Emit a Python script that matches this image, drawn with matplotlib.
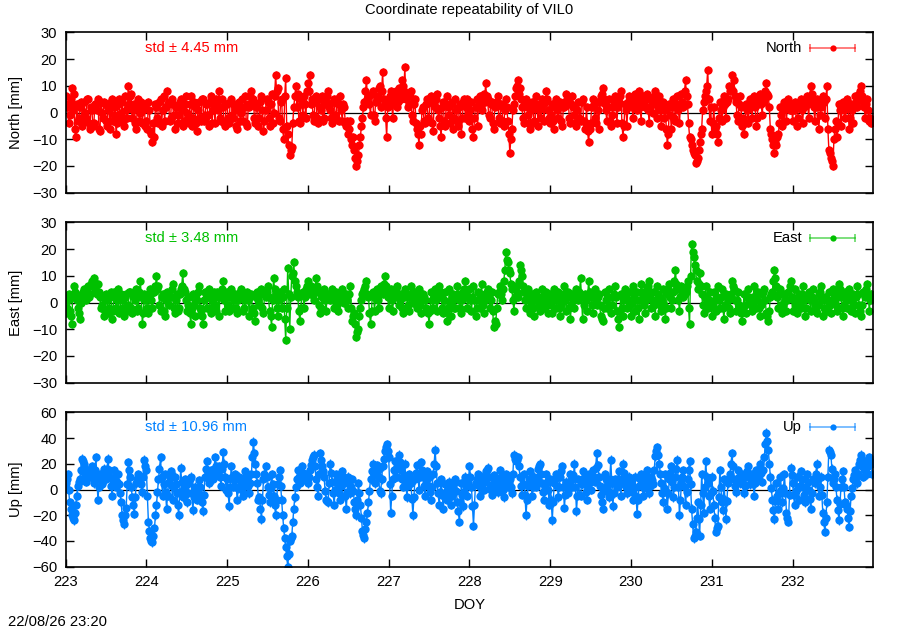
import numpy as np
import matplotlib
matplotlib.use("Agg")
import matplotlib.pyplot as plt

# ---------------- data ----------------
title = "Coordinate repeatability of VIL0"
stamp = "22/08/26 23:20"
doy_start = 223.0
doy_step = 0.025          # spacing of each sample set; the *_mid sets sit half a step later

north = [
    6, 3, -1, 9, 7, -9, -3, 2, -5, 4, -2, 5, -6, 1, -4, 3, 5, -7, 0, 4, -3, 2, -6, 5, -1, -8, 3, -2, 4, -5, 1, 10, 6, -2, 3, -6, 5, 0, -4, 2,
    -3, 4, -7, -11, -9, 2, -4, 5, 1, -3, 8, 4, -2, 3, -6, 2, -1, 5, -5, 3, 0, -4, 6, -2, 2, -7, 4, -3, 5, -1, 3, -5, 6, 1, -4, 4, 8, -3, 2, -5,
    3, -4, 5, -2, 1, -6, 4, 0, -3, 6, -5, 2, 8, 5, -4, 3, -2, 6, -7, 1, 4, -5, 7, 0, 14, 9, -3, 5, -10, 13, -8, -16, -13, 2, 10, 7, -4, 3, 6, -2,
    11, 14, 5, -3, 6, -4, 2, 6, -2, 4, 8, 1, -4, 5, -2, 3, 6, -3, 2, -5, -8, -3, -12, -14, -20, -16, -9, -2, 4, 12, 6, -1, 8, -3, 5, 9, 2, 15, 4, -9,
    4, 8, -2, 6, 2, 9, 5, 10, 17, 6, 3, 8, -3, 5, -6, -12, -8, 2, -4, 5, -3, 6, -7, 2, 7, -2, -9, 4, -5, 6, -1, 3, -6, 5, -3, 2, -8, 4, -2, 5,
    -3, 4, -9, 2, -5, 6, 1, 7, 11, 5, -2, 4, -6, 3, 6, -4, 2, -5, 5, -3, -15, -6, 3, 9, 12, 9, 2, -4, 5, -1, -6, 4, -3, 6, -5, 2, 5, -3, 8, 1,
    -4, 3, -6, 5, -2, 4, -5, 2, 7, 3, -4, 6, -1, -5, 4, -3, 5, -6, 2, -11, -4, 5, -2, 4, -6, 6, 9, 3, -3, 5, -5, 2, 6, -4, 4, 8, -9, 3, -5, 6,
    5, -2, 7, 1, 8, -3, 6, 2, 7, -4, 5, 0, 8, -2, 6, -5, 4, 1, -12, 3, -6, 5, -3, 6, -4, 7, 2, 12, 3, -9, -12, -15, -19, -17, -11, -6, 4, 8, 16, -3,
    -8, 2, -5, -11, 4, -3, 6, -2, 5, 8, 14, 12, 4, -3, 6, -5, -8, 3, -4, 5, -2, 6, -5, 3, 7, -1, 4, 11, 6, -6, -10, -15, -12, -8, 2, -5, 4, -3, 5, 1,
    -3, 4, -5, 2, 5, -4, 3, 6, -2, 10, 4, -3, 5, -6, 2, 6, -2, 10, -14, -17, -20, -6, -9, 3, -5, 4, -2, 5, -6, 3, -4, 6, 2, 7, 10, 4, -2, 5, -3, -4,
]
north_mid = [
    2, -4, 5, 1, -6, 3, -2, 4, -3, 0, 5, -4, 2, -5, 3, 1, -6, 4, -2, 3, -5, 1, 4, -3, 2, -4, 5, 0, -3, 6, -2, 3, 7, 1, -4, 2, -3, 4, 1, -5,
    -6, 1, -8, -4, 3, -2, 4, -5, 6, 2, 3, -3, 5, -1, 2, -4, 4, 1, -3, 6, -2, 3, -5, 4, -4, 1, -2, 5, -3, 3, -1, 4, -4, 2, 5, 1, -2, 5, -4, 3,
    -2, 4, -1, 3, -5, 2, -3, 5, 2, -4, 3, 6, 4, -2, 2, -5, 4, 1, -3, 5, -2, 3, -4, 6, 8, -2, 4, -6, 6, -5, -12, -14, -4, 6, 2, -3, 5, -1, 3, 8,
    8, 3, -1, 4, -2, 5, 1, -3, 3, 6, 2, -2, 4, -1, 5, -3, 1, 3, -4, -3, -6, -10, -9, -17, -18, -12, -5, 2, 8, 5, 3, 7, -1, 4, 6, 10, 8, 5, -2, 2,
    6, 3, 5, 8, 4, 7, 12, 8, 5, 2, 6, -1, 3, -4, -8, -5, 1, -3, 3, -2, 4, -4, 3, 5, 1, -5, 2, -3, 3, 2, -4, 4, -2, 1, -5, 3, -2, 5, 2, -1,
    1, -6, -2, 5, 3, 2, 5, 4, 6, -1, 3, -4, 2, 4, -2, 3, -3, 1, 2, -8, -10, 1, 6, 10, 7, 5, -2, 3, 2, -4, 1, 2, -4, 3, 1, -2, 3, 4, 5, -2,
    -1, -3, 2, 1, 3, -3, 2, 4, 5, -2, 3, 2, -4, 1, -2, 4, -3, -4, -7, -6, 2, 3, -4, 1, 4, 7, 5, 1, 2, -3, -1, 4, 3, 2, 6, -4, -5, 1, 4, 3,
    2, 4, 3, 5, 2, 4, 3, 5, 1, 2, 3, 6, 4, 2, 1, 3, -2, -6, -8, -1, 2, -2, 3, 1, 3, 4, 8, 6, -4, -10, -14, -16, -18, -14, -8, 1, 6, 10, 5, 2,
    -4, -6, -8, -2, 1, 2, 3, 4, 10, 9, 8, 6, -1, 3, 2, -2, -4, 1, 2, 3, 4, 2, -2, 5, 3, 6, 8, 7, 2, -8, -12, -11, -9, -4, -1, 1, 2, 3, 1, 3,
    1, 2, -2, 3, 1, 2, 4, 3, 6, 7, 2, 2, 3, -1, 3, 4, 5, -6, -15, -18, -10, -3, -4, 1, 2, 1, 3, 2, -2, 1, 3, 4, 5, 8, 6, 2, 3, 1, -2, -3,
]

east = [
    -4, 1, -3, -8, 6, 3, -2, -6, 2, 5, 1, 6, 3, 8, 9, 4, 7, 2, -1, -5, 3, -4, 2, -6, 4, -2, 5, -3, 1, -5, 3, -1, 4, -4, 2, 5, -2, 8, -8, 3,
    2, -4, 5, -2, 4, 10, 6, -3, 3, -5, 4, -1, 2, 7, -4, 3, -2, 5, 11, 4, -3, 2, -8, 3, -5, 1, 6, -3, -8, 4, -2, 5, -4, 3, -1, 4, -5, 2, 8, -3,
    4, -3, 5, -2, 3, -4, 2, 5, -3, 1, 4, -5, 3, -2, -7, 4, -1, 5, -4, 2, 6, -3, -9, 9, 3, -5, 4, -2, 5, -14, 13, -10, 10, 15, 6, 2, -7, 3, -2, 5,
    8, 3, 5, 1, 9, 4, -4, 2, 5, -3, 3, 1, 5, -2, 4, -3, 2, 5, 0, 3, -2, 6, -7, -4, -13, -10, -2, 3, 5, 8, 2, -8, 4, -3, 5, -2, 6, 3, 10, 4,
    -2, 5, -3, 4, 6, -1, 3, -4, 5, 2, -3, 6, 0, 4, -2, 5, -4, 3, 1, -3, -8, 4, -2, 5, -3, 6, 2, -4, 4, -7, 5, -5, 3, -2, 6, 1, -4, 4, 8, -2,
    5, -3, 6, -5, 4, -2, 7, -4, 3, 5, -2, 4, -9, -8, 3, 6, 1, 8, 19, 15, 11, 5, -3, 6, 2, 14, 10, 4, -2, 5, -4, 3, -5, 4, 1, -3, 5, -2, 4, -4,
    3, -4, 5, -2, 4, -5, 2, 6, -3, 4, -6, 3, -2, 5, 1, 9, -6, 3, -3, 8, 2, -4, 5, -1, 3, -5, -7, 4, -2, 5, -4, 2, 6, -3, -9, 3, -5, 5, -2, 4,
    -5, 6, -3, 4, -6, 7, 2, -4, 5, 8, -2, 4, -5, 6, 1, -3, 5, -6, 3, 7, -2, 4, 12, 5, -3, 6, 2, 4, 8, -8, 22, 17, 12, 5, 11, 3, -4, 6, -2, 4,
    -5, 4, -3, 6, -2, 5, -6, 3, 1, -4, 8, 5, -3, 4, -2, -7, 3, -4, 5, 1, -3, 6, -2, 4, -5, 3, 5, -4, -7, 2, 4, 12, 6, -2, 5, -4, 3, -3, 4, 8,
    -3, 5, -4, 3, -2, 6, -5, 2, 4, -3, 5, -1, -4, 3, 6, -5, 2, -3, 4, -4, 5, 1, -3, 7, 2, -5, 4, -2, 5, -3, 3, -4, 6, -1, -5, 4, 2, 7, -3, 3,
]
east_mid = [
    -2, 3, -5, 2, 4, 1, -4, 0, 4, 3, 5, 2, 7, 6, 5, 3, 4, -2, 2, -3, 1, -2, 4, -3, 2, 1, -4, 3, -2, 2, -3, 4, -2, 3, 1, -3, 4, 2, -4, 1,
    -2, 3, 1, 4, 6, 5, -1, 2, -3, 1, 3, 2, 5, -2, 1, -3, 3, 6, 5, 1, -1, -4, -2, -1, 3, 4, -2, -5, 1, 3, 2, -2, 1, 4, -3, 2, 3, 5, 1, 2,
    -1, 2, 3, 1, -2, 1, 4, 2, -2, 3, 1, 2, -3, -4, 2, 1, 3, -2, 3, 4, 2, -5, 1, 5, -2, 1, 3, 2, -6, -2, 3, 2, 11, 8, 4, -3, -2, 4, 2, 6,
    5, 6, 3, 5, 6, -1, -2, 4, 1, 2, 3, 2, 1, 3, -1, 1, 4, 3, 2, 1, 3, -2, -5, -8, -11, -5, 1, 4, 6, 3, -4, -3, 2, 3, 1, 3, 4, 7, 6, 2,
    2, 1, 3, 5, 2, 1, -2, 2, 3, -1, 3, 2, 2, 1, 3, -1, 1, 2, -2, -4, -3, 1, 3, 1, 2, 4, -2, 1, -3, -2, -1, 1, -2, 2, 3, -2, 1, 5, 3, 2,
    1, 2, 1, -2, 1, 3, -1, 1, 4, 2, 1, -3, -7, -2, 4, 3, 5, 12, 16, 12, 7, 1, 2, 4, 8, 12, 6, 1, 2, 1, -1, -2, 1, 2, -1, 2, 1, 2, -1, 1,
    -1, 1, 2, 1, -2, -1, 3, 1, 2, -2, -1, 1, 2, 3, 4, 2, -1, 1, 2, 4, -1, 2, 1, 2, -1, -6, -2, 1, 2, -1, -1, 3, 2, -6, -3, -2, 1, 2, 1, -1,
    1, 2, 1, -2, 1, 4, -1, 1, 6, 3, 1, -1, 1, 3, -1, 1, -1, -2, 5, 2, 1, 8, 7, 1, 2, 4, 3, 6, -2, 10, 19, 14, 8, 7, 6, -1, 2, 1, 1, -1,
    -1, 1, 2, 1, 2, -2, -1, 2, -2, 3, 6, 1, 1, -1, -4, -2, -1, 2, 2, -1, 2, 1, 1, -2, -1, 4, 1, -5, -3, 3, 8, 9, 2, 3, -1, -1, 1, 1, 6, 2,
    1, -1, 1, -1, 3, 1, -2, 3, 1, 2, 1, -3, -1, 4, 1, -2, 1, 1, -1, 1, 3, -1, 4, 5, -2, -1, 1, 2, 1, 1, -1, 2, 3, -3, -1, 3, 5, 3, 1, 2,
]

up = [
    5, 12, -10, -20, -24, -12, 3, 8, 24, 20, 6, 15, 10, 18, 5, 25, -8, 12, 4, 16, 8, 24, 10, -5, 15, 2, 12, -3, -20, -27, -14, 21, 10, -6, -19, 5, 12, 10, -2, 23,
    15, -25, -38, -41, -30, -12, 8, 25, -5, 12, -15, 6, 14, -8, 10, -3, -20, 17, -6, 8, -10, 5, 10, -16, 2, -8, 7, -4, -17, 10, 22, 5, 15, 8, 25, 12, 18, 3, 29, 10,
    8, -13, 18, 2, 12, -8, 10, 5, -5, 14, 8, -3, 12, 37, 20, 5, -6, -23, 8, 18, 2, -10, 12, -5, -20, 4, 15, -8, -30, -45, -60, -40, -36, -15, 2, 15, 5, 18, 8, 12,
    5, 15, 23, 27, 8, -5, 28, 18, 10, -8, -10, 20, 6, -12, 12, 2, -8, 14, 5, -15, 10, -3, 8, -10, -20, 5, -12, -32, -38, -25, -10, 8, 20, 5, 19, 10, -3, 18, 30, 35,
    25, -18, 8, 22, 10, 27, 15, 2, 20, -6, 12, 5, -20, 8, 19, 0, 21, 10, -5, 14, 3, -8, 12, 31, 5, -12, 8, -15, 4, -8, 6, -12, 2, 8, -10, -25, 5, -13, 10, -5,
    18, 2, -28, 5, 12, -5, 10, 0, 14, 17, 3, -4, 11, 6, -2, 15, 5, -6, 12, 2, 8, -3, 27, 22, 25, 10, -4, 12, -20, 3, 14, -5, 10, 2, 16, 20, 5, -8, 12, 0,
    8, -24, 5, 12, -6, 10, 18, -14, 6, -3, 12, 2, 20, -17, 8, -5, 14, 4, -8, 12, 0, 15, 6, 28, 10, -4, -15, 12, 3, -6, 23, -13, 8, 2, 14, -5, 20, 6, -3, 10,
    5, -8, 10, -19, 3, 12, -5, 8, 15, -3, 10, 4, 26, 33, 20, 5, -10, 12, -15, 8, 18, -6, 10, 23, -20, 5, 15, -12, 8, 22, -15, -38, -33, -10, -36, 12, -18, 22, 5, -15,
    10, -12, -33, -28, 15, -10, 8, -23, 5, 12, 28, 8, -2, 15, 5, 12, -3, 10, 18, 4, 12, -5, 15, 8, 20, 6, 25, 44, 31, 10, -8, -23, 5, -15, 10, -10, 12, -18, -25, 17,
    5, -12, 10, -8, 14, 2, -10, 12, 0, -15, 8, 5, 20, -5, 10, -18, -33, -10, 31, 27, 5, 12, -8, -24, 2, 14, -10, -15, -29, -5, 8, 15, 5, 20, 27, 10, 22, 12, 25, 20,
]
up_mid = [
    8, 0, -15, -22, -18, -5, 6, 15, 22, 12, 10, 12, 14, 10, 15, 8, 2, 8, 10, 12, 16, 15, 3, 5, 8, 6, 4, -10, -24, -20, 4, 15, 2, -12, -6, 8, 11, 4, 10, 18,
    -5, -32, -40, -36, -20, -2, 16, 10, 4, -2, -5, 10, 3, 2, 4, -12, -2, 6, 1, -2, -3, 8, -3, -6, -3, 0, 2, -10, -4, 16, 12, 10, 12, 16, 18, 15, 10, 16, 20, 0,
    -3, 2, 10, 7, 2, 1, 8, 0, 5, 11, 3, 5, 25, 28, 12, -8, -15, -8, 12, 10, -4, 1, 4, -12, -8, 10, 3, -20, -38, -52, -50, -38, -25, -6, 8, 10, 12, 13, 10, 8,
    10, 19, 25, 18, 2, 12, 23, 14, -1, -9, 5, 13, -3, 0, 7, -3, 3, 10, -5, -2, 4, 2, -1, -15, -8, -3, -22, -35, -31, -18, -1, 14, 12, 12, 15, -1, 8, 24, 33, 30,
    4, -5, 15, 16, 18, 21, 8, 11, 7, 3, 8, -7, -6, 13, 10, 10, 15, 3, 5, 9, -2, 2, 20, 18, -3, -2, -4, -5, -2, -1, -3, -5, 5, -1, -17, -10, -4, -2, 3, 6,
    10, -13, -12, 8, 3, 2, 5, 7, 15, 10, 0, 4, 8, 2, 6, 10, 0, 3, 7, 5, 2, 12, 24, 23, 18, 3, 4, -4, -8, 8, 4, 2, 6, 9, 18, 12, -2, 2, 6, -12,
    -8, -10, 8, 3, 2, 14, 2, -4, 2, 4, 7, 11, 2, -5, -4, 4, 9, -2, 2, 6, 8, 10, 17, 19, 3, -10, -1, 8, -1, 8, 5, -3, 5, 8, 4, 8, 13, 2, 3, 7,
    -2, 1, -5, -8, 8, 3, 1, 12, 6, 3, 7, 15, 30, 27, 12, -3, 1, -2, -3, 13, 6, 2, 16, 2, -8, 10, 2, -2, 15, 4, -27, -36, -22, -23, -12, -3, 2, 10, -5, -3,
    -1, -22, -30, -6, 2, -16, -8, -9, 8, 20, 18, 3, 6, 10, 8, 4, 3, 14, 11, 8, 4, 5, 12, 14, 13, 15, 35, 38, 20, 1, -16, -9, -5, -3, 0, 1, -3, -22, -4, 11,
    -4, -1, 1, 3, 8, -4, 1, 6, -7, -3, 7, 12, 8, 2, -4, -25, -22, 10, 29, 16, 8, 2, -16, -11, 8, 2, -12, -22, -17, 1, 11, 10, 12, 23, 18, 16, 17, 18, 22, 12,
]

names = ["North", "East", "Up"]
ylabels = ["North [mm]", "East [mm]", "Up [mm]"]
std_vals = [4.45, 3.48, 10.96]
sigmas = [1.5, 1.5, 3.5]
ylims = [(-30, 30), (-30, 30), (-60, 60)]
ytick_sets = [list(range(-30, 31, 10)), list(range(-30, 31, 10)), list(range(-60, 61, 20))]
xticks = list(range(223, 233))
xlim = (223, 233)
colors = ["#ff0000", "#00c000", "#0080ff"]

# ---------------- figure ----------------
FS = 10.6
plt.rcParams["font.family"] = ["Liberation Sans", "DejaVu Sans"]
plt.rcParams["font.size"] = FS

fig = plt.figure(figsize=(9, 6.3), dpi=100)
W, H = 900, 630
left_px, right_px = 65.6, 873.3
panels_px = [(32.3, 192.7), (222.3, 382.7), (412.3, 566.7)]

series = [(north, north_mid), (east, east_mid), (up, up_mid)]
for k in range(3):
    top, bot = panels_px[k]
    ax = fig.add_axes([left_px / W, 1 - bot / H, (right_px - left_px) / W, (bot - top) / H])
    ya = np.array(series[k][0], dtype=float)
    yb = np.array(series[k][1], dtype=float)
    xa = doy_start + doy_step * np.arange(len(ya))
    xb = xa + doy_step / 2.0
    x = np.column_stack([xa, xb]).ravel()
    y = np.column_stack([ya, yb]).ravel()
    ax.axhline(0, color="black", lw=0.9, zorder=1)
    ax.errorbar(x, y, yerr=sigmas[k], fmt="-o", color=colors[k], ms=6.0, mew=0,
                lw=1.0, elinewidth=0.9, capsize=2.2, capthick=0.9, zorder=2)
    ax.set_xlim(*xlim)
    ax.set_ylim(*ylims[k])
    ax.set_yticks(ytick_sets[k])
    ax.set_xticks(xticks)
    ax.tick_params(direction="in", top=True, right=True, length=6, width=1,
                   labelsize=FS, pad=6)
    if k < 2:
        ax.tick_params(labelbottom=False)
    for s in ax.spines.values():
        s.set_linewidth(1.2)
        s.set_zorder(5)
    ax.set_ylabel(ylabels[k], fontsize=FS)
    ax.yaxis.set_label_coords(-0.053, 0.5)
    # std annotation
    ax.text(0.098, 0.905, "std \u00b1 %.2f mm" % std_vals[k], color=colors[k],
            transform=ax.transAxes, ha="left", va="center", fontsize=FS)
    # gnuplot-style legend key
    ax.text(0.9117, 0.905, names[k], transform=ax.transAxes, ha="right",
            va="center", fontsize=FS)
    lx = [0.9216, 0.9774]
    ax.plot(lx, [0.905, 0.905], transform=ax.transAxes, color=colors[k],
            alpha=0.6, lw=1.2, clip_on=False)
    ax.plot(lx, [0.905, 0.905], transform=ax.transAxes, color=colors[k],
            alpha=0.6, lw=0, marker="|", ms=6, mew=1.2, clip_on=False)
    ax.plot([0.9495], [0.905], transform=ax.transAxes, color=colors[k],
            marker="o", ms=4.5, mew=0, clip_on=False)

fig.text(469.5 / W, 1 - 10 / H, title, ha="center", va="center", fontsize=FS)
fig.text(469.5 / W, 1 - 605 / H, "DOY", ha="center", va="center", fontsize=FS)
fig.text(8 / W, 1 - 622 / H, stamp, ha="left", va="center", fontsize=FS)

fig.savefig("out.png", dpi=100)
